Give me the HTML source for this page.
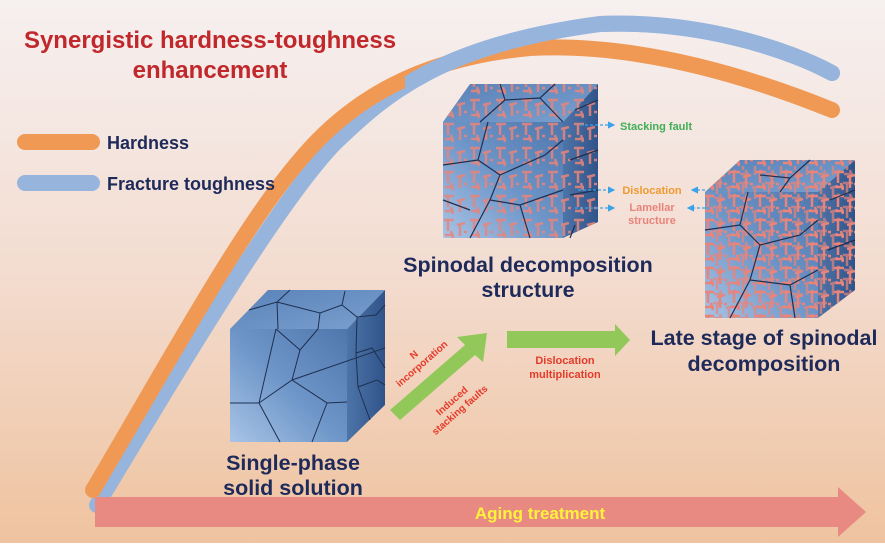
<!DOCTYPE html>
<html><head><meta charset="utf-8"><style>
html,body{margin:0;padding:0}
body{width:885px;height:543px;overflow:hidden;font-family:"Liberation Sans",sans-serif}
</style></head><body>
<svg width="885" height="543" viewBox="0 0 885 543" xmlns="http://www.w3.org/2000/svg" font-family="Liberation Sans, sans-serif" font-weight="bold">
<defs>
<linearGradient id="bg" x1="0" y1="0" x2="0" y2="1">
<stop offset="0" stop-color="#f6f0f0"/><stop offset="0.5" stop-color="#f3dcd0"/><stop offset="1" stop-color="#efc39f"/>
</linearGradient>
<linearGradient id="front" x1="0" y1="1" x2="1" y2="0">
<stop offset="0" stop-color="#a8c4e6"/><stop offset="0.5" stop-color="#6d95c8"/><stop offset="1" stop-color="#4f77ad"/>
</linearGradient>
<linearGradient id="top" x1="0" y1="0" x2="1" y2="1">
<stop offset="0" stop-color="#5a82b8"/><stop offset="1" stop-color="#7aa0cf"/>
</linearGradient>
<linearGradient id="side" x1="0" y1="0" x2="1" y2="0">
<stop offset="0" stop-color="#4d74a8"/><stop offset="1" stop-color="#30548a"/>
</linearGradient>
<pattern id="lam" width="26" height="24" patternUnits="userSpaceOnUse">
<path d="M2 4h10M6 4v11M15 9l8-2M18 8v12M3 19h9M9 15l2 7M22 16h3" stroke="#e8847a" stroke-width="2.5" fill="none"/>
</pattern>
<marker id="ah" markerWidth="6" markerHeight="6" refX="5" refY="3" orient="auto"><path d="M0,0L6,3L0,6z" fill="#3aa3e8"/></marker>
<clipPath id="cp"><rect x="405" y="0" width="600" height="200"/></clipPath>
</defs>
<rect width="885" height="543" fill="url(#bg)"/>
<!-- curves -->
<path id="blue" d="M97,505 C190,350 280,200 335,143 C385,95 440,45 600,24 C700,20 790,50 832,73" stroke="#97b5dc" stroke-width="16" fill="none" stroke-linecap="round"/>
<path d="M93,490 C170,360 240,230 300,160 C350,100 420,58 530,48 C650,42 770,85 832,110" stroke="#ef9955" stroke-width="16" fill="none" stroke-linecap="round"/>
<path d="M97,505 C190,350 280,200 335,143 C385,95 440,45 600,24 C700,20 790,50 832,73" stroke="#97b5dc" stroke-width="16" fill="none" stroke-linecap="round" clip-path="url(#cp)"/>
<!-- title -->
<text x="210" y="48" fill="#c0282b" font-size="24" text-anchor="middle">Synergistic hardness-toughness</text>
<text x="210" y="78" fill="#c0282b" font-size="24" text-anchor="middle">enhancement</text>
<line x1="25" y1="142" x2="92" y2="142" stroke="#ef9955" stroke-width="16" stroke-linecap="round"/>
<text x="107" y="149" fill="#1e2a5a" font-size="18">Hardness</text>
<line x1="25" y1="183" x2="92" y2="183" stroke="#97b5dc" stroke-width="16" stroke-linecap="round"/>
<text x="107" y="190" fill="#1e2a5a" font-size="18">Fracture toughness</text>
<!-- cube 1 -->
<polygon points="230,329 268,290 385,290 347,329" fill="url(#top)"/>
<polygon points="347,329 385,290 385,405 347,442" fill="url(#side)"/>
<rect x="230" y="329" width="117" height="113" fill="url(#front)"/>
<g stroke="#1f2f50" stroke-width="1" fill="none">
<path d="M276,329 L259,403 L230,403 M259,403 L280,442 M259,403 L292,380 L300,350 L318,329 M276,329 L300,350 M292,380 L385,348 M292,380 L327,403 L312,442 M327,403 L347,402"/>
<path d="M249,310 L277,302 L278,329 M277,302 L320,313 L342,305 L345,291 M342,305 L357,317 L376,315 L385,305 M320,313 L318,329 M277,302 L290,290"/>
<path d="M357,317 L356,353 L358,387 L370,420 M356,353 L372,348 L385,368 M358,387 L377,380 L385,385"/>
</g>
<!-- cube 2 -->
<polygon points="443,122 470,84 598,84 563,122" fill="url(#top)"/>
<polygon points="563,122 598,84 598,222 563,238" fill="url(#side)"/>
<rect x="443" y="122" width="120" height="116" fill="url(#front)"/>
<polygon points="443,122 470,84 598,84 598,222 563,238 443,238" fill="url(#lam)" opacity="0.85"/>
<g stroke="#1f2f50" stroke-width="1.2" fill="none">
<path d="M443,165 L478,160 L500,175 L490,200 L470,238 M478,160 L488,122 M500,175 L545,155 L563,140 M490,200 L520,205 L563,190 M520,205 L530,238 M443,200 L470,210 M500,84 L505,100 L540,98 L555,84 M505,100 L480,122 M540,98 L563,122 M575,110 L598,100 M570,160 L598,150 M570,195 L598,190 M575,225 L570,238"/>
</g>
<!-- cube 3 -->
<polygon points="705,192 740,160 855,160 818,192" fill="url(#top)"/>
<polygon points="818,192 855,160 855,290 818,318" fill="url(#side)"/>
<rect x="705" y="192" width="113" height="126" fill="url(#front)"/>
<clipPath id="c3"><polygon points="705,192 740,160 855,160 855,290 818,318 705,318"/></clipPath>
<g clip-path="url(#c3)">
<rect x="700" y="155" width="160" height="170" fill="url(#lam)"/>
<rect x="700" y="155" width="160" height="170" fill="url(#lam)" transform="translate(9,11)" opacity="0.7"/>
</g>
<g stroke="#1f2f50" stroke-width="1.2" fill="none">
<path d="M705,230 L740,225 L760,245 L750,280 L730,318 M740,225 L748,192 M760,245 L800,235 L818,220 M750,280 L790,285 L818,270 M790,285 L795,318 M760,175 L790,178 L810,160 M790,178 L780,192 M830,200 L855,190 M828,250 L855,240"/>
</g>
<!-- labels cube 2 -->
<g stroke="#3aa3e8" stroke-width="1.2" stroke-dasharray="3,2" fill="none">
<line x1="580" y1="125" x2="614" y2="125" marker-end="url(#ah)"/>
<line x1="578" y1="190" x2="614" y2="190" marker-end="url(#ah)"/>
<line x1="575" y1="208" x2="614" y2="208" marker-end="url(#ah)"/>
<line x1="705" y1="190" x2="692" y2="190" marker-end="url(#ah)"/>
<line x1="705" y1="208" x2="688" y2="208" marker-end="url(#ah)"/>
</g>
<text x="620" y="130" fill="#3fae55" font-size="11">Stacking fault</text>
<text x="652" y="194" fill="#ee9a2e" font-size="11" text-anchor="middle">Dislocation</text>
<text x="652" y="211" fill="#e8847a" font-size="11" text-anchor="middle">Lamellar</text>
<text x="652" y="224" fill="#e8847a" font-size="11" text-anchor="middle">structure</text>
<!-- arrows -->
<polygon points="390,410 465,345 457,337 487,333 483,362 475,355 400,420" fill="#92c85a"/>
<polygon points="507,331 615,331 615,324 630,340 615,356 615,348 507,348" fill="#92c85a"/>
<text transform="translate(422,364) rotate(-41)" fill="#e63a2a" font-size="10" text-anchor="middle"><tspan x="0" y="-9">N</tspan><tspan x="0" y="3">incorporation</tspan></text>
<text transform="translate(458,408) rotate(-41)" fill="#e63a2a" font-size="10" text-anchor="middle"><tspan x="0" y="-6">Induced</tspan><tspan x="0" y="6">stacking faults</tspan></text>
<text x="565" y="364" fill="#e63a2a" font-size="11" text-anchor="middle">Dislocation</text>
<text x="565" y="378" fill="#e63a2a" font-size="11" text-anchor="middle">multiplication</text>
<!-- main labels -->
<text x="528" y="272" fill="#1e2a5a" font-size="21.5" text-anchor="middle">Spinodal decomposition</text>
<text x="528" y="297" fill="#1e2a5a" font-size="21.5" text-anchor="middle">structure</text>
<text x="764" y="345" fill="#1e2a5a" font-size="21.5" text-anchor="middle">Late stage of spinodal</text>
<text x="764" y="371" fill="#1e2a5a" font-size="21.5" text-anchor="middle">decomposition</text>
<text x="293" y="470" fill="#1e2a5a" font-size="21.5" text-anchor="middle">Single-phase</text>
<text x="293" y="495" fill="#1e2a5a" font-size="21.5" text-anchor="middle">solid solution</text>
<!-- aging arrow -->
<polygon points="95,497 838,497 838,487 866,512 838,537 838,527 95,527" fill="#e88a82"/>
<text x="540" y="519" fill="#fff23a" font-size="17" text-anchor="middle">Aging treatment</text>
</svg>
</body></html>
